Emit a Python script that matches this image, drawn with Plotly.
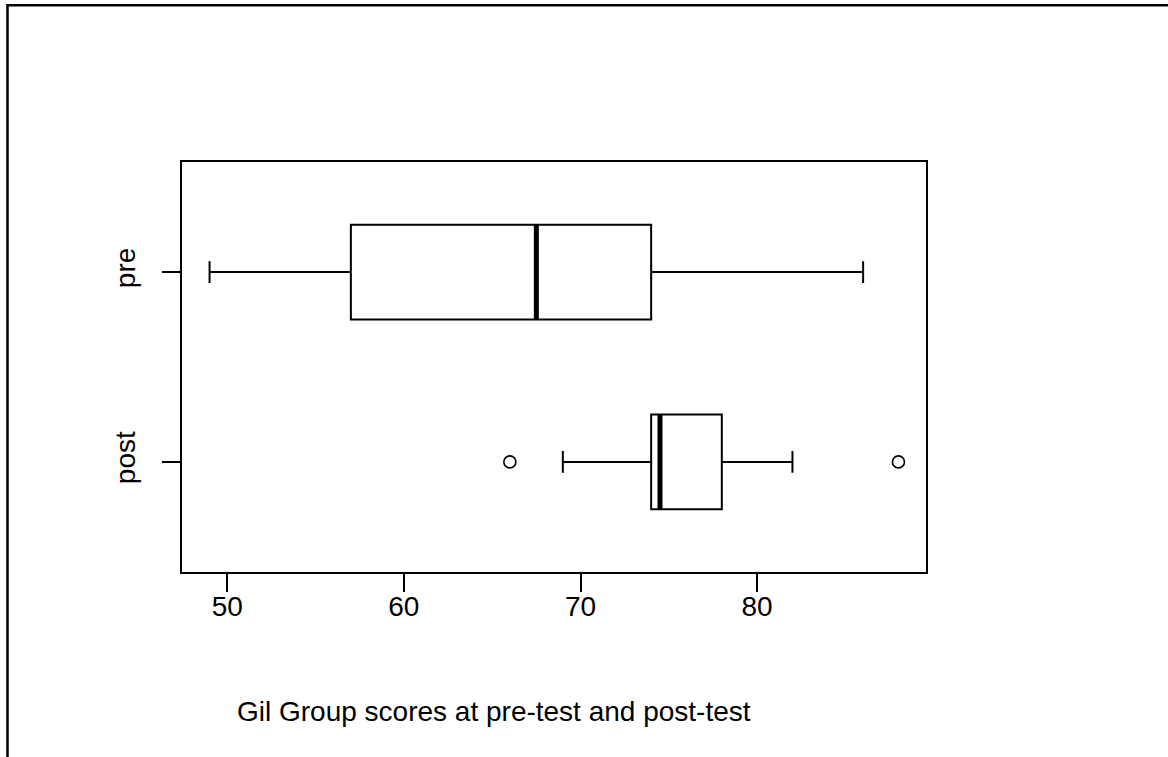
import plotly.graph_objects as go

# ---- data ----
groups = ["post", "pre"]
group_pos = [1, 2]
lower_whisker = [69, 49]
q1 = [74, 57]
median = [74.5, 67.5]
q3 = [78, 74]
upper_whisker = [82, 86]
outliers = {"post": [66, 88], "pre": []}
x_ticks = [50, 60, 70, 80]
x_title = "Gil Group scores at pre-test and post-test"

W, H = 1168, 757
L, R, T, B = 181.7, 926.5, 161.7, 571.7
BOXW = 0.5

fig = go.Figure()
for g, p, lw, a, m, b, uw in zip(groups, group_pos, lower_whisker, q1, median, q3, upper_whisker):
    fig.add_trace(go.Box(
        y=[p], q1=[a], median=[m], q3=[b], lowerfence=[lw], upperfence=[uw],
        orientation="h", width=BOXW, whiskerwidth=0.23,
        fillcolor="white", line=dict(color="black", width=2),
        boxpoints=False, showlegend=False, name=g,
    ))
    # thick median line
    fig.add_trace(go.Scatter(
        x=[m, m], y=[p - BOXW / 2, p + BOXW / 2], mode="lines",
        line=dict(color="black", width=5), showlegend=False, hoverinfo="skip",
    ))
    if outliers[g]:
        fig.add_trace(go.Scatter(
            x=outliers[g], y=[p] * len(outliers[g]), mode="markers",
            marker=dict(symbol="circle-open", size=12, color="black", line=dict(width=1.6)),
            showlegend=False,
        ))

font = dict(family="Liberation Sans, Arial, Helvetica, sans-serif", size=28, color="black")

pw, ph = R - L, B - T
def px2paper_x(px):
    return (px - L) / pw
def px2paper_y(py):
    return (B - py) / ph

# outer frame (left and top edges visible)
fig.add_shape(type="path",
    path=f"M {px2paper_x(7)} {px2paper_y(H + 5)} L {px2paper_x(7)} {px2paper_y(5)} L {px2paper_x(W + 5)} {px2paper_y(5)}",
    xref="paper", yref="paper", line=dict(color="black", width=2.5))

# x axis title (placed as in the reference)
fig.add_annotation(text=x_title, xref="paper", yref="paper",
                   x=px2paper_x(494.5), y=px2paper_y(711), xanchor="center", yanchor="middle",
                   showarrow=False, font=font)

fig.update_layout(
    width=W, height=H,
    margin=dict(l=L, r=W - R, t=T, b=H - B, pad=0),
    paper_bgcolor="white", plot_bgcolor="white",
    font=font,
    xaxis=dict(
        range=[47.44, 89.56], tickvals=x_ticks, ticktext=[str(v) for v in x_ticks],
        ticks="outside", ticklen=18, tickwidth=1.5, tickcolor="black",
        showline=True, mirror=True, linecolor="black", linewidth=1.5,
        showgrid=False, zeroline=False, tickfont=font, ticklabelstandoff=-9,
    ),
    yaxis=dict(
        range=[0.42, 2.58], tickvals=group_pos, ticktext=groups, tickangle=-90,
        ticks="outside", ticklen=18, tickwidth=1.5, tickcolor="black",
        showline=True, mirror=True, linecolor="black", linewidth=1.5,
        showgrid=False, zeroline=False, tickfont=font, ticklabelstandoff=16,
    ),
)

fig.write_html("out.html")
